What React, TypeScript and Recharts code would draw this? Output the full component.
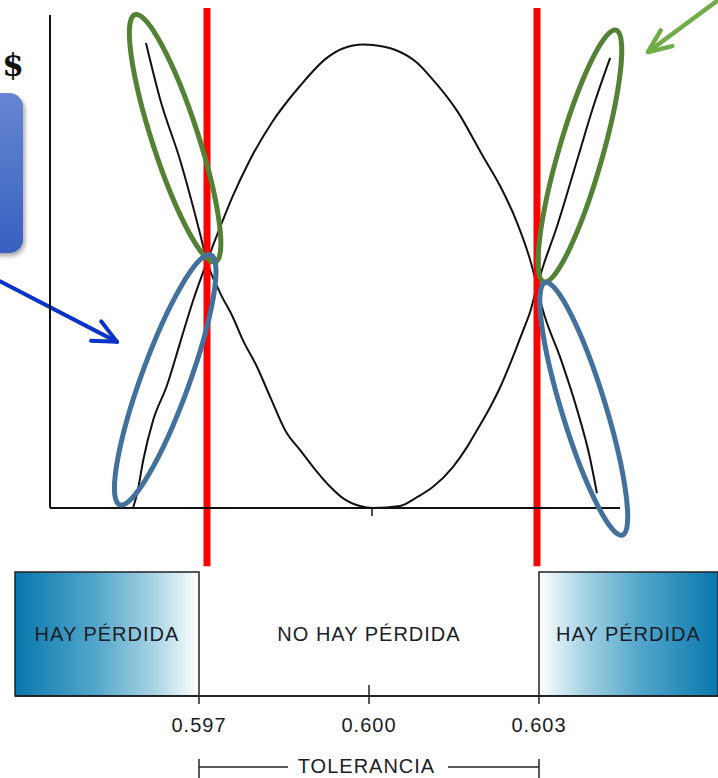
import React from 'react';
import {
  ComposedChart,
  Line,
  XAxis,
  YAxis,
  ReferenceLine,
  ReferenceDot,
  ReferenceArea,
} from 'recharts';

// medida de la pieza (mm) vs costo ($)
const curvaX = [0.59566, 0.59573, 0.59584, 0.59602, 0.59627, 0.59651, 0.59675, 0.597, 0.59724, 0.59747, 0.59778, 0.59818, 0.59869, 0.59918, 0.59947, 0.59984, 0.6002, 0.60045, 0.60082, 0.60105, 0.60155, 0.60202, 0.60233, 0.60264, 0.60287, 0.603, 0.60309, 0.60342, 0.60373, 0.60396, 0.60409];
const curvaY = [0.2, 3.0, 9.7, 17.8, 24.8, 33.5, 42.2, 50, 57.0, 63.3, 70.6, 78.2, 85.6, 91.3, 93.2, 94.0, 93.6, 92.8, 90.3, 87.6, 80.5, 71.3, 65.3, 57.8, 50.5, 45, 40.8, 30.6, 19.9, 10.3, 3.0];

const perdidaX = [0.59589, 0.59615, 0.59651, 0.59687, 0.597, 0.59724, 0.59747, 0.59765, 0.59791, 0.59815, 0.59845, 0.59869, 0.59893, 0.59924, 0.59947, 0.59978, 0.60002, 0.60051, 0.60082, 0.60111, 0.60147, 0.60173, 0.60191, 0.60215, 0.60233, 0.60256, 0.60275, 0.60287, 0.603, 0.60311, 0.60336, 0.60373, 0.60402, 0.60433];
const perdidaY = [94.3, 82.8, 70.6, 55.8, 50, 43.6, 38.7, 34.1, 28.6, 22.5, 15.2, 11.8, 8.3, 4.3, 2.0, 0.4, 0, 0.4, 2.2, 4.3, 8.3, 12.4, 15.8, 20.5, 24.5, 30.6, 36.1, 39.6, 45, 49, 57, 70.6, 81.3, 91.3];

const NOMINAL = 0.6;
const LIMITES = [0.597, 0.603];
const BAND_TICKS = [0.597, 0.6, 0.603];
const ZONAS = ['HAY PÉRDIDA', 'NO HAY PÉRDIDA', 'HAY PÉRDIDA'];

const X_DOMAIN = [0.594145, 0.604509];
const BAND_DOMAIN = [0.593753, 0.606159];

const GREEN = '#548235';
const RING_BLUE = '#41719c';
const TEXT = '#1c1c28';
const FONT = '"Liberation Sans", Arial, sans-serif';

// anillos de anotación (centro en unidades del gráfico)
const anillos = [
  { x: 0.59642, y: 75, rx: 23, ry: 130, angle: -18, color: GREEN },
  { x: 0.60378, y: 71.4, rx: 22, ry: 131, angle: 16, color: GREEN },
  { x: 0.59624, y: 26, rx: 24, ry: 133, angle: 20, color: RING_BLUE },
  { x: 0.60385, y: 20.1, rx: 22, ry: 132, angle: -17, color: RING_BLUE },
];

const curvaData = curvaX.map((x, i) => ({ x, y: curvaY[i] }));
const perdidaData = perdidaX.map((x, i) => ({ x, y: perdidaY[i] }));
const bandData = BAND_TICKS.map((x) => ({ x, y: 0 }));

const arrowShape = (color: string, w: number, len: number, spread: number) => (p: any) => {
  const { x1, y1, x2, y2 } = p;
  const a = Math.atan2(y1 - y2, x1 - x2);
  const s = (spread * Math.PI) / 180;
  const ax = x2 + len * Math.cos(a + s);
  const ay = y2 + len * Math.sin(a + s);
  const bx = x2 + len * Math.cos(a - s);
  const by = y2 + len * Math.sin(a - s);
  return (
    <g>
      <line x1={x1} y1={y1} x2={x2} y2={y2} stroke={color} strokeWidth={w} strokeLinecap="round" />
      <polyline
        points={`${ax},${ay} ${x2},${y2} ${bx},${by}`}
        fill="none"
        stroke={color}
        strokeWidth={w}
        strokeLinecap="round"
        strokeLinejoin="round"
      />
    </g>
  );
};

const noTick = () => <g />;

function TopChart() {
  return (
    <ComposedChart
      width={718}
      height={570}
      margin={{ top: 15, right: 98, left: 0, bottom: 0 }}
      style={{ fontFamily: FONT }}
    >
      <defs>
        <linearGradient id="boxBlue" x1="0" y1="0" x2="0" y2="1">
          <stop offset="0%" stopColor="#6787d2" />
          <stop offset="100%" stopColor="#3760c0" />
        </linearGradient>
        <filter id="boxShadow" x="-50%" y="-20%" width="200%" height="140%">
          <feDropShadow dx="2" dy="3" stdDeviation="2" floodColor="#000" floodOpacity="0.35" />
        </filter>
      </defs>
      <XAxis
        dataKey="x"
        type="number"
        domain={X_DOMAIN}
        allowDataOverflow
        ticks={[NOMINAL]}
        tick={noTick}
        tickSize={8}
        tickLine={{ stroke: '#111', strokeWidth: 1.5 }}
        axisLine={{ stroke: '#111', strokeWidth: 2 }}
        height={62}
      />
      <YAxis
        type="number"
        domain={[0, 100]}
        allowDataOverflow
        tick={false}
        tickLine={false}
        axisLine={{ stroke: '#111', strokeWidth: 2 }}
        width={50}
      />
      <Line
        data={curvaData}
        dataKey="y"
        type="monotone"
        dot={false}
        stroke="#111"
        strokeWidth={2}
        isAnimationActive={false}
      />
      <Line
        data={perdidaData}
        dataKey="y"
        type="monotone"
        dot={false}
        stroke="#111"
        strokeWidth={2}
        isAnimationActive={false}
      />
      {LIMITES.map((v) => (
        <ReferenceLine
          key={v}
          segment={[{ x: v, y: 101.4 }, { x: v, y: -11.8 }]}
          stroke="#ff0000"
          strokeWidth={7}
          ifOverflow="visible"
        />
      ))}
      {anillos.map((r, i) => (
        <ReferenceDot
          key={i}
          x={r.x}
          y={r.y}
          r={r.rx}
          ifOverflow="visible"
          shape={(p: any) => (
            <ellipse
              cx={p.cx}
              cy={p.cy}
              rx={r.rx}
              ry={r.ry}
              fill="none"
              stroke={r.color}
              strokeWidth={5}
              transform={`rotate(${r.angle} ${p.cx} ${p.cy})`}
            />
          )}
        />
      ))}
      <ReferenceArea
        x1={0.592691}
        x2={0.593655}
        y1={51.7}
        y2={84.2}
        ifOverflow="visible"
        shape={(p: any) => (
          <rect
            x={p.x}
            y={p.y}
            width={p.width}
            height={p.height}
            rx={14}
            ry={14}
            fill="url(#boxBlue)"
            filter="url(#boxShadow)"
          />
        )}
      />
      <ReferenceLine
        segment={[{ x: 0.593236, y: 46.0 }, { x: 0.595364, y: 33.7 }]}
        ifOverflow="visible"
        shape={arrowShape('#0a34c8', 4, 26, 25)}
      />
      <ReferenceLine
        segment={[{ x: 0.606291, y: 103.0 }, { x: 0.605018, y: 92.5 }]}
        ifOverflow="visible"
        shape={arrowShape('#70ad47', 4.5, 25, 23)}
      />
      <ReferenceDot
        x={0.593473}
        y={89.9}
        r={1}
        ifOverflow="visible"
        shape={(p: any) => (
          <text
            x={p.cx}
            y={p.cy}
            textAnchor="middle"
            dominantBaseline="central"
            fontSize={31}
            fontWeight="bold"
            fontFamily='"DejaVu Serif", serif'
            fill="#111"
          >
            $
          </text>
        )}
      />
    </ComposedChart>
  );
}

function BandChart() {
  const labelStyle = { fontSize: 20, fill: TEXT, letterSpacing: 1 };
  return (
    <ComposedChart
      width={718}
      height={218}
      data={bandData}
      margin={{ top: 12, right: 0, left: 15, bottom: 0 }}
      style={{ fontFamily: FONT }}
    >
      <defs>
        <linearGradient id="gradL" x1="0" y1="0" x2="1" y2="0">
          <stop offset="0%" stopColor="#0877ad" />
          <stop offset="45%" stopColor="#55a8cc" />
          <stop offset="75%" stopColor="#a6d3e4" />
          <stop offset="100%" stopColor="#ffffff" />
        </linearGradient>
        <linearGradient id="gradR" x1="1" y1="0" x2="0" y2="0">
          <stop offset="0%" stopColor="#0877ad" />
          <stop offset="45%" stopColor="#55a8cc" />
          <stop offset="75%" stopColor="#a6d3e4" />
          <stop offset="100%" stopColor="#ffffff" />
        </linearGradient>
      </defs>
      <XAxis
        dataKey="x"
        type="number"
        domain={BAND_DOMAIN}
        allowDataOverflow
        ticks={BAND_TICKS}
        interval={0}
        tickFormatter={(v: number) => v.toFixed(3)}
        tick={labelStyle}
        tickSize={8}
        tickMargin={14}
        tickLine={{ stroke: '#222', strokeWidth: 1.5 }}
        axisLine={{ stroke: '#222', strokeWidth: 2 }}
        height={82}
        label={{ value: 'TOLERANCIA', position: 'insideBottom', offset: 5, ...labelStyle }}
      />
      <YAxis type="number" domain={[0, 1]} allowDataOverflow hide />
      <Line dataKey="y" stroke="none" dot={false} isAnimationActive={false} />
      <ReferenceArea
        x1={BAND_DOMAIN[0]}
        x2={LIMITES[0]}
        y1={0}
        y2={1}
        fill="url(#gradL)"
        fillOpacity={1}
        stroke="#222"
        strokeWidth={1.5}
        ifOverflow="visible"
        label={{ value: ZONAS[0], position: 'center', ...labelStyle }}
      />
      <ReferenceArea
        x1={LIMITES[0]}
        x2={LIMITES[1]}
        y1={0}
        y2={1}
        fill="none"
        fillOpacity={0}
        ifOverflow="visible"
        label={{ value: ZONAS[1], position: 'center', ...labelStyle }}
      />
      <ReferenceArea
        x1={LIMITES[1]}
        x2={BAND_DOMAIN[1]}
        y1={0}
        y2={1}
        fill="url(#gradR)"
        fillOpacity={1}
        stroke="#222"
        strokeWidth={1.5}
        ifOverflow="visible"
        label={{ value: ZONAS[2], position: 'center', ...labelStyle }}
      />
      <ReferenceLine
        segment={[{ x: NOMINAL, y: 0 }, { x: NOMINAL, y: 0.089 }]}
        stroke="#222"
        strokeWidth={1.5}
        ifOverflow="visible"
      />
      {/* corchete de tolerancia */}
      <ReferenceLine
        segment={[{ x: LIMITES[0], y: -0.573 }, { x: 0.598571, y: -0.573 }]}
        stroke="#222"
        strokeWidth={1.5}
        ifOverflow="visible"
      />
      <ReferenceLine
        segment={[{ x: 0.601394, y: -0.573 }, { x: LIMITES[1], y: -0.573 }]}
        stroke="#222"
        strokeWidth={1.5}
        ifOverflow="visible"
      />
      {LIMITES.map((v) => (
        <ReferenceLine
          key={v}
          segment={[{ x: v, y: -0.508 }, { x: v, y: -0.661 }]}
          stroke="#222"
          strokeWidth={1.5}
          ifOverflow="visible"
        />
      ))}
    </ComposedChart>
  );
}

export default function App() {
  return (
    <div
      style={{
        position: 'absolute',
        left: 0,
        top: 0,
        width: 718,
        height: 778,
        background: '#fff',
        overflow: 'hidden',
      }}
    >
      <div style={{ position: 'absolute', left: 0, top: 0 }}>
        <TopChart />
      </div>
      <div style={{ position: 'absolute', left: 0, top: 560 }}>
        <BandChart />
      </div>
    </div>
  );
}
